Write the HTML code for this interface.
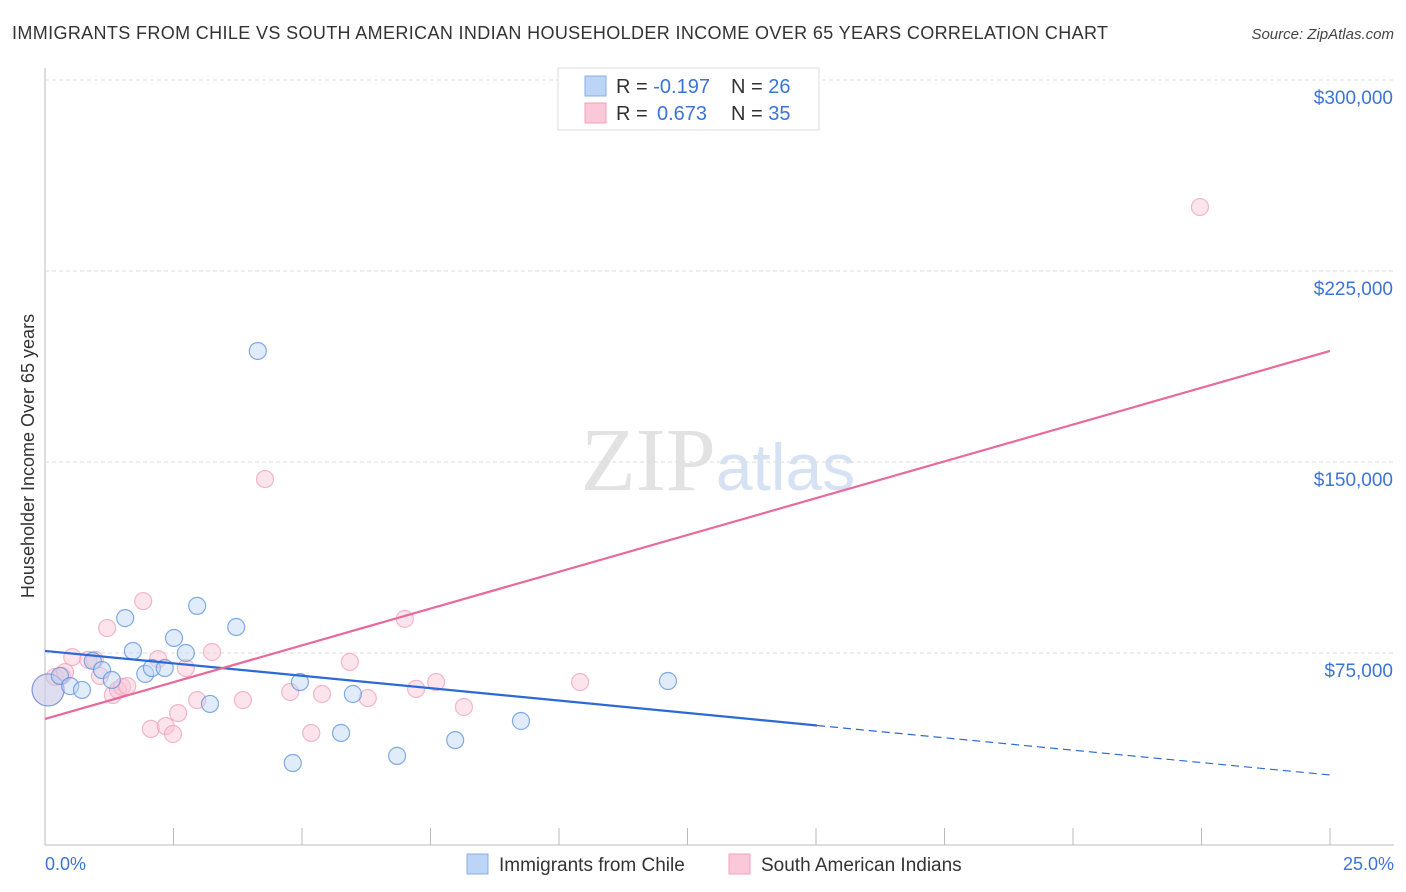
<!DOCTYPE html>
<html><head><meta charset="utf-8"><style>
body{margin:0;background:#fff;font-family:"Liberation Sans",sans-serif;}
svg{display:block}
</style></head><body>
<svg id="chart" width="1406" height="892" xmlns="http://www.w3.org/2000/svg">
<text x="12" y="39" font-size="18" fill="#333" textLength="1096" lengthAdjust="spacing">IMMIGRANTS FROM CHILE VS SOUTH AMERICAN INDIAN HOUSEHOLDER INCOME OVER 65 YEARS CORRELATION CHART</text>
<text x="1394" y="39" font-size="15" font-style="italic" fill="#444" text-anchor="end">Source: ZipAtlas.com</text>
<text x="718" y="490" font-size="90" text-anchor="middle" fill="#e2e2e2" font-family="Liberation Serif,serif">ZIP<tspan fill="#d6e2f4" font-family="Liberation Sans,sans-serif" font-size="66">atlas</tspan></text>
<g id="grid"></g>
<g id="marks"></g>
<text transform="translate(34,456) rotate(-90)" font-size="18" fill="#333" text-anchor="middle">Householder Income Over 65 years</text>
<text x="45" y="870" font-size="18" fill="#3b74d6">0.0%</text>
<text x="1394" y="870" font-size="18" fill="#3b74d6" text-anchor="end">25.0%</text>
<g>
<rect x="558" y="68" width="261" height="62" fill="#fff" stroke="#ddd"/>
<rect x="585" y="76" width="21" height="20" fill="#bcd4f6" stroke="#8aaee0"/>
<rect x="585" y="103" width="21" height="20" fill="#fac8d8" stroke="#f0a0ba"/>
<text x="616" y="93" font-size="20" fill="#333">R = <tspan fill="#3b74d6">-0.197</tspan><tspan x="731">N = </tspan><tspan fill="#3b74d6">26</tspan></text>
<text x="616" y="120" font-size="20" fill="#333">R = <tspan fill="#3b74d6" x="657">0.673</tspan><tspan x="731">N = </tspan><tspan fill="#3b74d6">35</tspan></text>
</g>
<g>
<rect x="467" y="854" width="21" height="20" fill="#bcd4f6" stroke="#8aaee0"/>
<text x="499" y="871" font-size="19" fill="#333">Immigrants from Chile</text>
<rect x="729" y="854" width="21" height="20" fill="#fac8d8" stroke="#f0a0ba"/>
<text x="761" y="871" font-size="19" fill="#333">South American Indians</text>
</g>
</svg>
<script>
const yTicks=[75000,150000,225000,300000];
const yTickLabels=["$75,000","$150,000","$225,000","$300,000"];
const xTicks=[0,2.5,5,7.5,10,12.5,15,17.5,20,22.5,25];
const chileX=[0.06,0.29,0.49,0.72,0.93,1.11,1.30,1.56,1.71,1.95,2.08,2.33,2.51,2.74,2.96,3.21,3.72,4.14,4.82,4.96,5.76,5.99,6.85,7.98,9.26,12.12];
const chileY=[60.5,66.0,62.0,60.5,71.9,68.3,64.4,88.7,75.8,66.8,69.1,69.1,80.9,75.0,93.5,55.0,85.2,193.6,31.8,63.6,43.6,58.9,34.6,40.8,48.3,64.0];
const sameX=[0.06,0.19,0.33,0.39,0.53,0.84,0.97,1.07,1.21,1.32,1.42,1.50,1.60,1.91,2.06,2.20,2.35,2.49,2.59,2.74,2.96,3.25,3.85,4.28,4.77,5.18,5.39,5.93,6.28,7.00,7.22,7.61,8.15,10.41,22.47];
const sameY=[60.5,65.6,66.0,67.5,73.4,72.3,72.3,66.0,84.8,58.5,60.5,61.7,62.0,95.4,45.2,72.6,46.3,43.2,51.4,69.1,56.5,75.4,56.5,143.3,59.7,43.6,58.9,71.5,57.3,88.4,60.9,63.6,53.8,63.6,250.1];
const chileTrend=[75.8,27.1]; const chileSolidEnd=15.02;
const sameTrend=[49.1,193.6];
const NS="http://www.w3.org/2000/svg";
const X=v=>45+v/25*1285;
const Y=v=>844-v/75000*191;
const Yk=v=>Y(v*1000);
function mk(t,a,p){const e=document.createElementNS(NS,t);for(const k in a)e.setAttribute(k,a[k]);p.appendChild(e);return e;}
const grid=document.getElementById('grid'),marks=document.getElementById('marks');
const ax=mk('line',{x1:45,y1:68,x2:45,y2:845,stroke:'#bbb'},grid);


const bx=mk('line',{x1:45,y1:845,x2:1394,y2:845,stroke:'#bbb'},grid);


yTicks.forEach((v,i)=>{
 const l=mk('line',{x1:45,y1:Y(v),x2:1394,y2:Y(v),stroke:'#ddd','stroke-dasharray':'4,3'},grid);
 
 
 const t=mk('text',{x:1393,y:Y(v)+24,'font-size':19,fill:'#3b74d6','text-anchor':'end'},grid);
 t.textContent=yTickLabels[i];
 
 
});
xTicks.forEach(v=>{
 const l=mk('line',{x1:X(v),y1:828,x2:X(v),y2:845,stroke:'#bbb'},grid);
 
 
});
function pts(xs,ys,fill,stroke,name){
 xs.forEach((x,i)=>{
  const c=mk('circle',{cx:X(x),cy:Yk(ys[i]),r:i===0?16:8.5,fill:fill,stroke:stroke,'stroke-width':1.2,'fill-opacity':0.45,'stroke-opacity':0.75},marks);
  
  
 });
}
pts(sameX,sameY,'#f8c3d4','#f0a0ba','south-american-indian-point');
pts(chileX,chileY,'#bcd4f6','#5b8fdc','chile-point');
const cy=x=>chileTrend[0]+(chileTrend[1]-chileTrend[0])*x/25;
const l1=mk('line',{x1:X(0),y1:Yk(cy(0)),x2:X(chileSolidEnd),y2:Yk(cy(chileSolidEnd)),stroke:'#2b6ad6','stroke-width':2.2},marks);


const l2=mk('line',{x1:X(chileSolidEnd),y1:Yk(cy(chileSolidEnd)),x2:X(25),y2:Yk(cy(25)),stroke:'#2b6ad6','stroke-width':1.2,'stroke-dasharray':'8,5'},marks);


const l3=mk('line',{x1:X(0),y1:Yk(sameTrend[0]),x2:X(25),y2:Yk(sameTrend[1]),stroke:'#e8699a','stroke-width':2.2},marks);


</script>
</body></html>
